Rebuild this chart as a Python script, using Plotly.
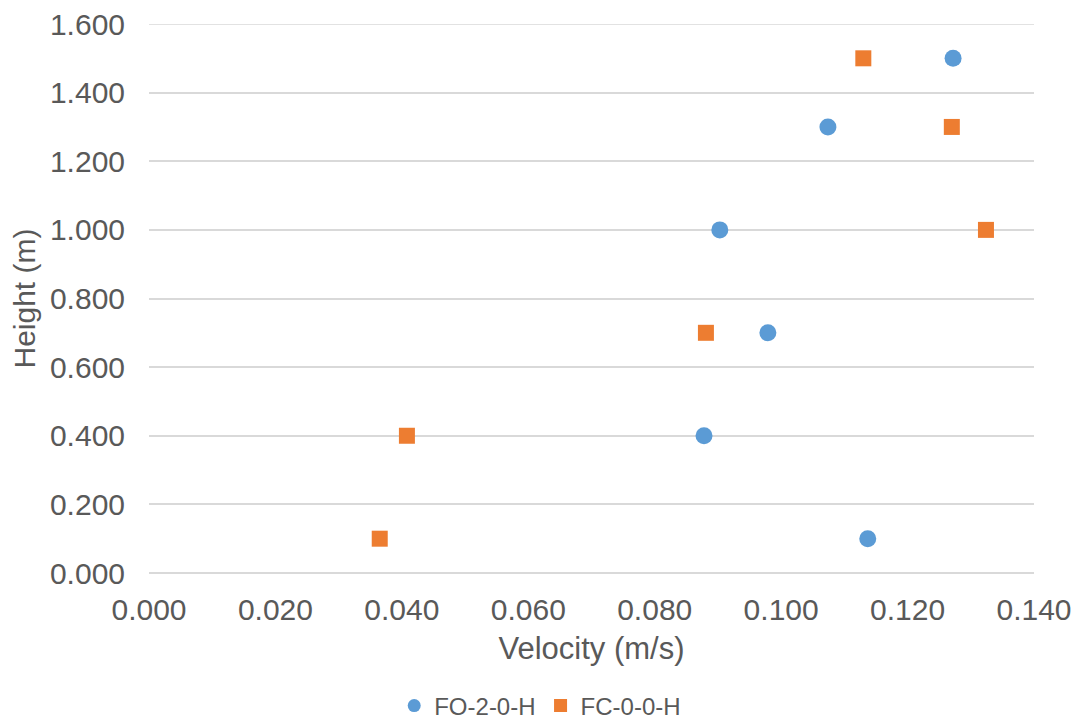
import plotly.graph_objects as go

heights = [0.1, 0.4, 0.7, 1.0, 1.3, 1.5]
vel_fo = [0.1137, 0.0878, 0.0979, 0.0903, 0.1074, 0.1272]
vel_fc = [0.0365, 0.0408, 0.0881, 0.1324, 0.1270, 0.1130]
series_names = ["FO-2-0-H", "FC-0-0-H"]
series_colors = ["#5B9BD5", "#ED7D31"]
series_symbols = ["circle", "square"]
x_ticks = [0.0, 0.02, 0.04, 0.06, 0.08, 0.10, 0.12, 0.14]
y_ticks = [0.0, 0.2, 0.4, 0.6, 0.8, 1.0, 1.2, 1.4, 1.6]

FONT = "Arial, Liberation Sans, sans-serif"
GREY = "#595959"
GRID = "#D9D9D9"

fig = go.Figure()
for vals, name, col, sym, sz in zip([vel_fo, vel_fc], series_names, series_colors,
                                     series_symbols, [17, 16]):
    fig.add_trace(go.Scatter(x=vals, y=heights, mode="markers", name=name,
                             legendgroup=name, showlegend=False,
                             marker=dict(symbol=sym, size=sz, color=col, line=dict(width=0))))
    # legend entry with smaller symbol
    fig.add_trace(go.Scatter(x=[None], y=[None], mode="markers", name=name,
                             legendgroup=name, showlegend=True,
                             marker=dict(symbol=sym, size=13, color=col, line=dict(width=0))))

# top gridline (plotly omits the gridline at the very edge of the range)
fig.add_shape(type="line", xref="paper", yref="y", x0=0, x1=1,
              y0=y_ticks[-1], y1=y_ticks[-1], line=dict(color=GRID, width=1.5), layer="below")

fig.update_layout(
    width=1073, height=714,
    margin=dict(l=141, r=47, t=16, b=149),
    paper_bgcolor="white", plot_bgcolor="white",
    font=dict(family=FONT, color=GREY, size=30),
    showlegend=True,
    legend=dict(orientation="h", xref="container", yref="container",
                x=0.496, xanchor="center", y=0.0224, yanchor="middle",
                font=dict(size=24, color=GREY), itemwidth=30, tracegroupgap=0),
    xaxis=dict(range=[0, 0.14], tickmode="array", tickvals=x_ticks, tickformat=".3f",
               automargin=False, ticklabeloverflow="allow",
               showgrid=False, zeroline=False, showline=False,
               ticks="outside", ticklen=10, tickcolor="rgba(0,0,0,0)",
               tickfont=dict(size=30, color=GREY),
               title=dict(text="Velocity (m/s)", font=dict(size=31, color=GREY), standoff=12)),
    yaxis=dict(range=[0, 1.6], tickmode="array", tickvals=y_ticks, tickformat=".3f",
               automargin=False, ticklabeloverflow="allow",
               showgrid=True, gridcolor=GRID, gridwidth=1.5,
               zeroline=True, zerolinecolor=GRID, zerolinewidth=1.5, showline=False,
               ticks="outside", ticklen=17, tickcolor="rgba(0,0,0,0)",
               tickfont=dict(size=30, color=GREY),
               title=dict(text="Height (m)", font=dict(size=30, color=GREY), standoff=8)),
)

fig.write_html("out.html")
